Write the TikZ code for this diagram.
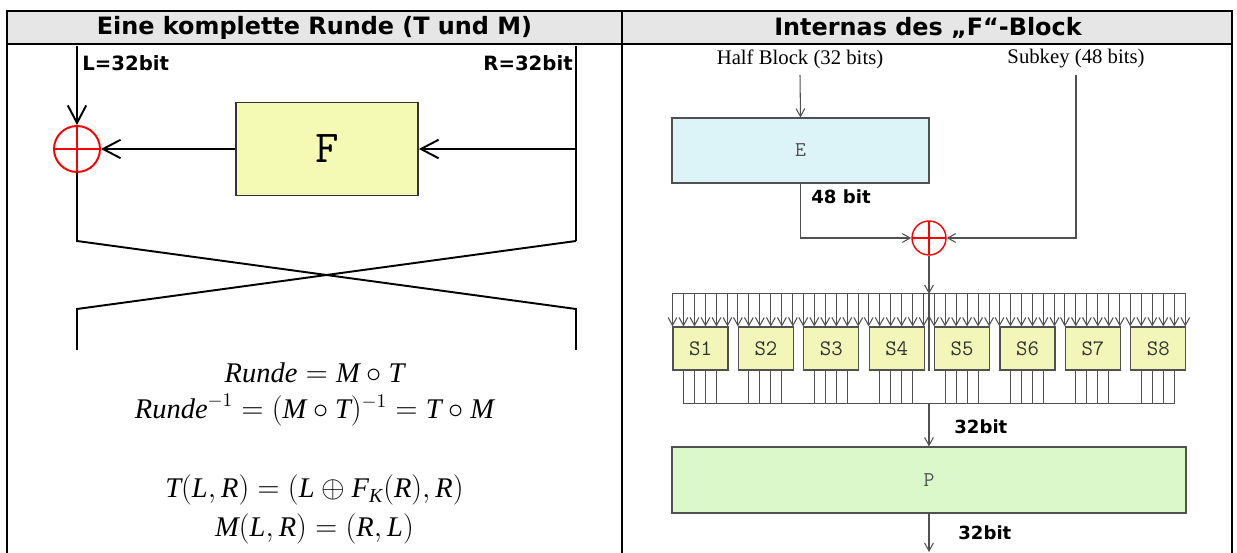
\documentclass[tikz,border=0pt]{standalone}
\usepackage{fontspec}
\setmainfont{Liberation Serif}
\newfontfamily\kopfschrift{DejaVu Sans}
\usetikzlibrary{arrows.meta}
\definecolor{KopfGrau}{HTML}{E6E6E6}
\definecolor{FGelb}{HTML}{F4FAB4}
\definecolor{SGelb}{HTML}{F2F7B9}
\definecolor{EBlau}{HTML}{DCF3F8}
\definecolor{PGruen}{HTML}{DBF8CB}
\definecolor{Strich}{HTML}{505050}
\tikzset{
  rahmen/.style  = {draw=black, line width=1.3pt},
  kopf/.style    = {font=\kopfschrift\bfseries\fontsize{13.6}{16}\selectfont},
  bit/.style     = {font=\kopfschrift\bfseries\fontsize{11.2}{13}\selectfont, inner sep=0pt},
  bitk/.style    = {font=\kopfschrift\bfseries\fontsize{10.3}{12}\selectfont, inner sep=0pt},
  serif/.style   = {font=\rmfamily\fontsize{11.8}{14}\selectfont},
  formel/.style  = {font=\fontsize{16.2}{19}\selectfont},
  linie/.style   = {draw=black, line width=1.1pt},
  pfeil/.style   = {linie, -{Straight Barb[length=10pt, width=10.5pt]}},
  duenn/.style   = {draw=Strich, line width=0.6pt},
  pfeilk/.style  = {duenn, -{Straight Barb[length=4.5pt, width=5pt]}},
  xorkreis/.style= {circle, draw=red, inner sep=0pt,
                    path picture={\draw[red]
                      (path picture bounding box.north) -- (path picture bounding box.south)
                      (path picture bounding box.west) -- (path picture bounding box.east);}},
  fkasten/.style = {rectangle, draw=black!80, line width=1pt, fill=FGelb,
                    minimum width=3.64cm, minimum height=1.86cm,
                    font=\ttfamily\fontsize{26}{28}\selectfont},
  ekasten/.style = {rectangle, draw=Strich, line width=0.6pt, fill=EBlau, text=Strich,
                    minimum width=5.14cm, minimum height=1.30cm,
                    font=\ttfamily\fontsize{12}{14}\selectfont},
  sbox/.style    = {rectangle, draw=Strich, line width=0.6pt, fill=SGelb, text=black!80,
                    minimum width=1.10cm, minimum height=0.86cm, inner sep=0pt,
                    font=\ttfamily\fontsize{12.6}{14}\selectfont},
  pkasten/.style = {ekasten, fill=PGruen, minimum width=10.28cm, minimum height=1.32cm},
}

\begin{document}
\begin{tikzpicture}[x=1cm, y=1cm]
  \useasboundingbox (0, 0) rectangle (24.74, 11.06);

  % --- Tabelle ---
  \fill[KopfGrau] (0.14, 10.18) rectangle (24.64, 10.84);
  \draw[rahmen] (0.14, 0) -- (0.14, 10.84) -- (24.64, 10.84) -- (24.64, 0);
  \draw[rahmen] (0.14, 10.18) -- (24.64, 10.18);
  \draw[rahmen] (12.44, 0) -- (12.44, 10.84);
  \node[kopf] at (6.29, 10.51)  (kopfl) {Eine komplette Runde (T und M)};
  \node[kopf] at (18.56, 10.51) (kopfr) {Internas des „F“-Block};

  % --- eine Runde, links ---
  \coordinate (ltop) at (1.54, 10.14);
  \coordinate (rtop) at (11.52, 10.14);
  \node[bit, anchor=west] at (1.64, 9.80)  (lbit) {L=32bit};
  \node[bit, anchor=east] at (11.46, 9.80) (rbit) {R=32bit};

  \node[xorkreis, minimum size=0.92cm, line width=1.1pt] at (1.54, 8.08) (xorl) {};
  \node[fkasten] at (6.54, 8.08) (f) {F};
  \coordinate (rmid) at (11.52, 8.08);

  \coordinate (lk)   at (1.54, 6.24);
  \coordinate (rk)   at (11.52, 6.24);
  \coordinate (lu)   at (1.54, 4.88);
  \coordinate (ru)   at (11.52, 4.88);
  \coordinate (lend) at (1.54, 4.06);
  \coordinate (rend) at (11.52, 4.06);

  \draw[pfeil] (ltop) -- (xorl.north);
  \draw[linie] (rtop) -- (rk);
  \draw[pfeil] (rmid) -- (f.east);
  \draw[pfeil] (f.west) -- (xorl.east);
  \draw[linie] (xorl.south) -- (lk) -- (ru) -- (rend);
  \draw[linie] (rk) -- (lu) -- (lend);

  % --- Formeln ---
  \node[formel] at (6.29, 3.60) (gl1) {$\mathit{Runde} = \mathit{M} \circ \mathit{T}$};
  \node[formel] at (6.29, 2.86) (gl2)
        {$\mathit{Runde}^{-1} = (\mathit{M} \circ \mathit{T})^{-1} = \mathit{T} \circ \mathit{M}$};
  \node[formel] at (6.29, 1.26) (gl3)
        {$\mathit{T}(\mathit{L}, \mathit{R}) = (\mathit{L} \oplus \mathit{F}_{\mathit{K}}(\mathit{R}), \mathit{R})$};
  \node[formel] at (6.29, 0.48) (gl4) {$\mathit{M}(\mathit{L}, \mathit{R}) = (\mathit{R}, \mathit{L})$};

  % --- F-Block, rechts ---
  \node[serif] at (16.00, 9.88) (hb) {Half Block (32 bits)};
  \node[serif] at (21.52, 9.88) (sk) {Subkey (48 bits)};
  \coordinate (hbtop) at (16.00, 9.56);
  \coordinate (sktop) at (21.52, 9.56);

  \node[ekasten] at (16.01, 8.05) (e) {E};
  \node[bitk, anchor=west] at (16.22, 7.12) (b48) {48 bit};
  \node[xorkreis, minimum size=0.68cm, line width=0.8pt] at (18.58, 6.30) (xorr) {};

  \draw[pfeilk] (hbtop) -- (e.north);
  \draw[pfeilk] (e.south) |- (xorr.west);
  \draw[pfeilk] (sktop) |- (xorr.east);

  % --- S-Boxen ---
  \coordinate (bus) at (18.58, 5.18);
  \draw[pfeilk] (xorr.south) -- (bus);
  \foreach \i in {1,...,8} {
    \node[sbox] at ({14.01 + (\i-1)*1.308}, 4.09) (s\i) {S\i};
    \foreach \j in {0,...,5}
      \draw[pfeilk] ([xshift=\j*0.22cm, yshift=0.66cm]s\i.north west) -- ([xshift=\j*0.22cm]s\i.north west);
    \foreach \j in {1,...,4}
      \draw[duenn] ([xshift=\j*0.22cm]s\i.south west) -- ([xshift=\j*0.22cm, yshift=-0.66cm]s\i.south west);
  }
  \draw[duenn] ([yshift=0.66cm]s1.north west) -- ([yshift=0.66cm]s8.north east);
  \draw[duenn] (bus) -- (bus |- s4.south);
  \draw[duenn] ([xshift=0.22cm, yshift=-0.66cm]s1.south west) -- ([xshift=0.88cm, yshift=-0.66cm]s8.south west);

  % --- P ---
  \coordinate (busu) at (18.58, 3.00);
  \node[pkasten] at (18.58, 1.46) (p) {P};
  \coordinate (pend) at (18.58, 0.02);
  \draw[pfeilk] (busu) -- (p.north);
  \node[bitk, anchor=west] at (19.08, 2.52) (b32a) {32bit};
  \draw[pfeilk] (p.south) -- (pend);
  \node[bitk, anchor=west] at (19.16, 0.40) (b32b) {32bit};
\end{tikzpicture}
\end{document}
